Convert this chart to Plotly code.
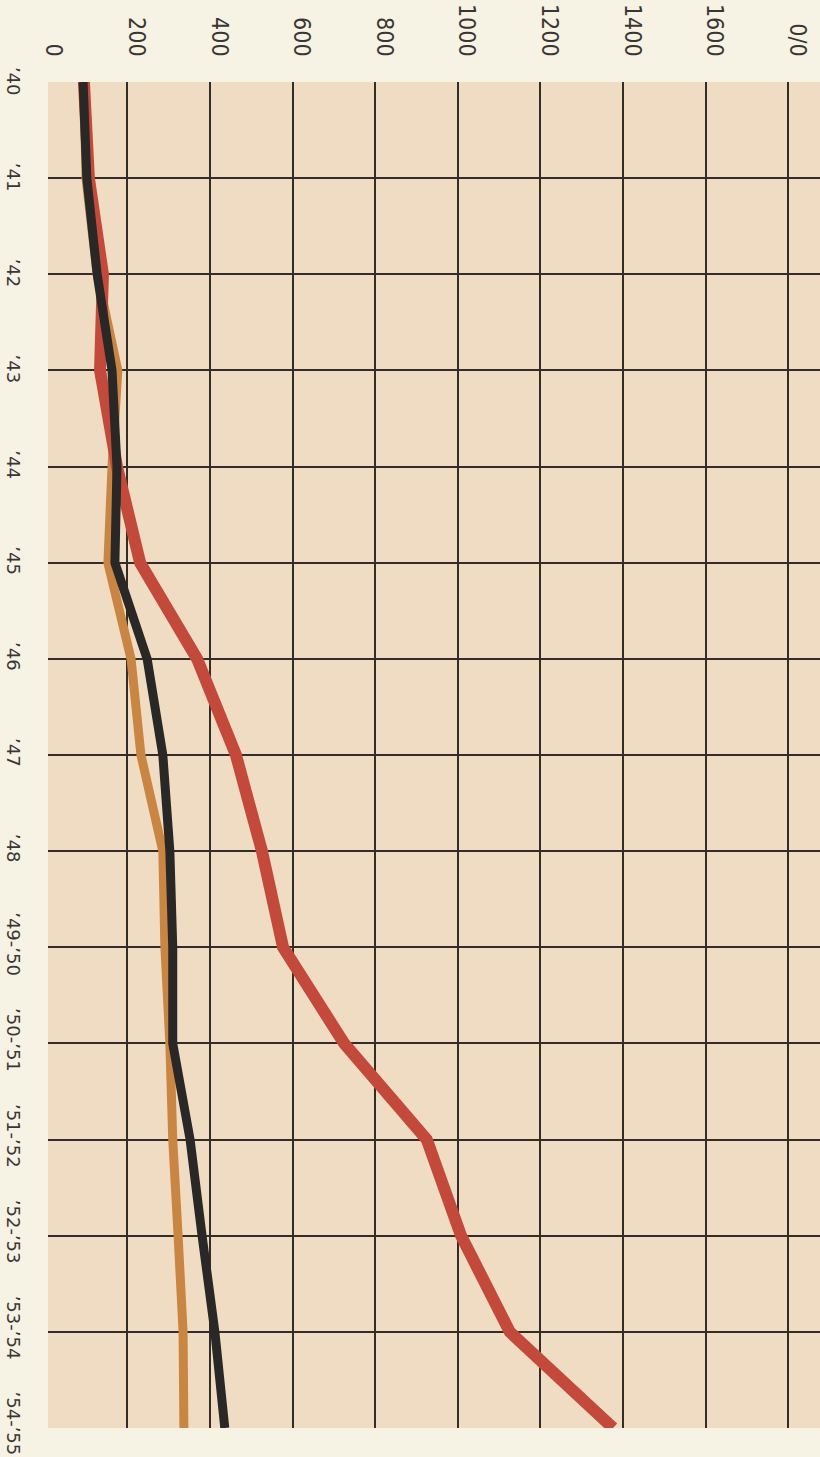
import plotly.graph_objects as go

categories = ["’40", "’41", "’42", "’43", "’44", "’45", "’46", "’47", "’48",
              "’49-’50", "’50-’51", "’51-’52", "’52-’53", "’53-’54", "’54-’55"]
black_values = [93, 102, 127, 163, 175, 170, 248, 286, 303, 310, 310, 352, 381, 412, 436]
red_values = [95, 107, 141, 134, 175, 231, 369, 463, 526, 577, 725, 925, 1008, 1126, 1376]
orange_values = [95, 100, 127, 177, 163, 153, 209, 233, 286, 291, 303, 310, 323, 335, 337]
value_ticks = [0, 200, 400, 600, 800, 1000, 1200, 1400, 1600, 1800]
value_tick_text = ["0", "200", "400", "600", "800", "1000", "1200", "1400", "1600", "0/0"]

idx = list(range(len(categories)))

PAPER = "#f6f2e4"
PLOT_BG = "#f0dcc3"
GRID = "#332d2a"
TEXT = "#3a3634"

fig = go.Figure()
fig.add_trace(go.Scatter(x=orange_values, y=idx, mode="lines",
                         line=dict(color="#c98542", width=9), hoverinfo="skip", showlegend=False))
fig.add_trace(go.Scatter(x=red_values, y=idx, mode="lines",
                         line=dict(color="#c34a3a", width=12), hoverinfo="skip", showlegend=False))
fig.add_trace(go.Scatter(x=black_values, y=idx, mode="lines",
                         line=dict(color="#2a2727", width=9), hoverinfo="skip", showlegend=False))
# carrier trace for the label axes
fig.add_trace(go.Scatter(x=black_values, y=idx, mode="lines", xaxis="x2", yaxis="y2",
                         line=dict(width=0), opacity=0, hoverinfo="skip", showlegend=False))

xr = [8, 1877]
label_shift = 22
n = len(categories) - 1
fig.update_layout(
    width=820, height=1457,
    margin=dict(l=48, r=0, t=82, b=29, autoexpand=False),
    paper_bgcolor=PAPER, plot_bgcolor=PLOT_BG,
    xaxis=dict(range=xr, side="top", tickmode="array", tickvals=value_ticks[1:],
               showgrid=True, gridcolor=GRID, gridwidth=2, zeroline=False,
               showticklabels=False, ticks="", showline=False, automargin=False),
    xaxis2=dict(range=[xr[0] - label_shift, xr[1] - label_shift], overlaying="x", side="top",
                tickmode="array", tickvals=value_ticks, ticktext=value_tick_text,
                tickangle=90, showgrid=False, zeroline=False, ticks="",
                ticklabelstandoff=21, automargin=False,
                tickfont=dict(family="DejaVu Sans Condensed, sans-serif",
                              size=23, color=TEXT)),
    yaxis=dict(range=[n, 0], tickmode="array", tickvals=idx[1:-1],
               showgrid=True, gridcolor=GRID, gridwidth=2, zeroline=False,
               showticklabels=False, ticks="", showline=False, automargin=False),
    yaxis2=dict(range=[n + 0.02, -0.02], overlaying="y", side="left",
                tickmode="array", tickvals=idx, ticktext=categories,
                tickangle=90, showgrid=False, zeroline=False, ticks="",
                ticklabelstandoff=22, automargin=False,
                tickfont=dict(family="DejaVu Sans", size=18, color=TEXT)),
)

fig.write_html("out.html",
               config={"displayModeBar": False},
               post_script="document.body.style.margin='0';document.body.style.padding='0';"
                           "document.body.style.background='" + PAPER + "';")
